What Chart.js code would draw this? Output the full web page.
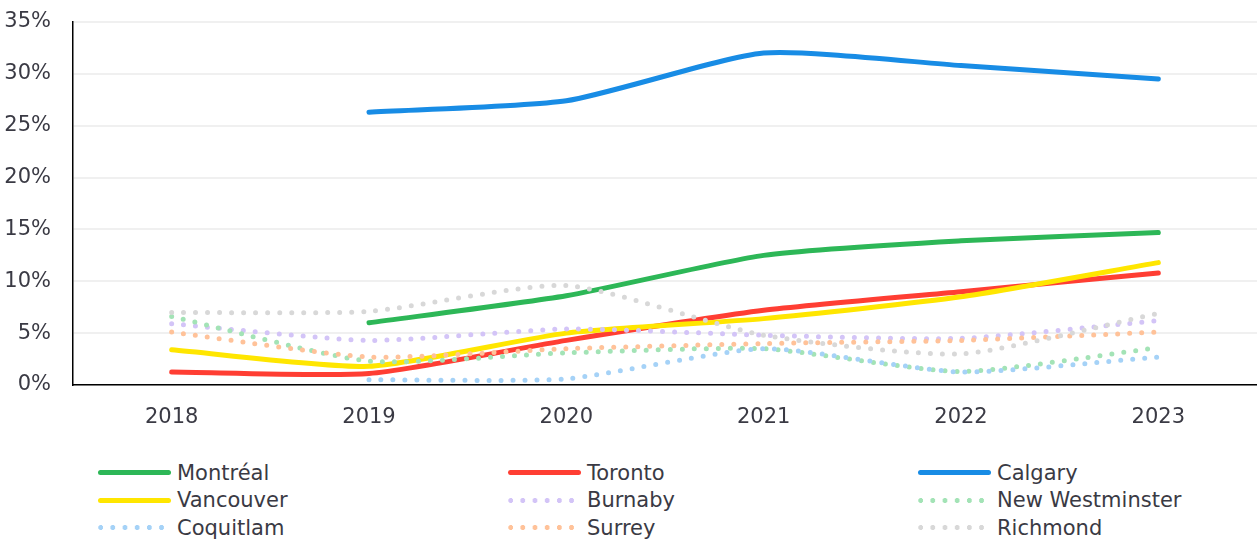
<!DOCTYPE html>
<html lang="en">
<head>
  <meta charset="UTF-8" />
  <title>Vacancy by city</title>
  <style>
    body {
      margin: 0;
      background: #fff;
      font-family: 'DejaVu Sans', sans-serif;
      color: #3a3a44;
    }
    .grafico {
      position: relative;
      width: 1257px;
      height: 440px;
    }
    .leyenda {
      position: absolute;
      left: 98px;
      top: 459px;
      display: grid;
      grid-template-columns: 410px 410px 330px;
      grid-auto-rows: 27.5px;
      font-size: 21px;
    }
    .item {
      display: flex;
      align-items: center;
      white-space: nowrap;
    }
    .muestra {
      width: 73px;
      height: 5px;
      margin-right: 6px;
      border-radius: 3px;
    }
  </style>
</head>
<body>
  <div class="grafico"><canvas id="lineas"></canvas></div>
  <div class="leyenda" id="leyenda"></div>
  <script src="https://cdn.jsdelivr.net/npm/chart.js"></script>
  <script>
    const anios = ['2018', '2019', '2020', '2021', '2022', '2023'];

    const montreal = [null, 6.0, 8.6, 12.5, 13.9, 14.7];
    const toronto = [1.25, 1.1, 4.3, 7.2, 9.0, 10.8];
    const calgary = [null, 26.3, 27.4, 32.0, 30.8, 29.5];
    const vancouver = [3.4, 1.8, 5.0, 6.4, 8.5, 11.8];
    const burnaby = [5.9, 4.3, 5.4, 4.8, 4.5, 6.2];
    const newWestminster = [6.6, 2.3, 3.1, 3.5, 1.3, 3.6];
    const coquitlam = [null, 0.5, 0.6, 3.5, 1.25, 2.7];
    const surrey = [5.1, 2.7, 3.5, 4.0, 4.3, 5.1];
    const richmond = [7.0, 7.1, 9.6, 4.8, 3.0, 6.9];

    const ticksY = [0, 5, 10, 15, 20, 25, 30, 35];

    function serie(nombre, datos, color, punteada) {
      return {
        label: nombre,
        data: datos,
        borderColor: color,
        backgroundColor: color,
        borderWidth: 5,
        borderCapStyle: 'round',
        borderDash: punteada ? [0, 12] : [],
        pointRadius: 0,
        tension: 0.2,
        fill: false,
        punteada: punteada
      };
    }

    const series = [
      serie('Montréal', montreal, '#2db757', false),
      serie('Toronto', toronto, '#ff3e33', false),
      serie('Calgary', calgary, '#188ce5', false),
      serie('Vancouver', vancouver, '#ffe600', false),
      serie('Burnaby', burnaby, '#d3c4f7', true),
      serie('New Westminster', newWestminster, '#a3e3b6', true),
      serie('Coquitlam', coquitlam, '#a5d2f7', true),
      serie('Surrey', surrey, '#ffc299', true),
      serie('Richmond', richmond, '#d8d8d8', true)
    ];
    // later series painted on top
    series.forEach((s, i) => { s.order = series.length - i; });

    const fuenteEje = { family: "'DejaVu Sans', sans-serif", size: 21 };

    new Chart(document.getElementById('lineas'), {
      type: 'line',
      data: { labels: anios, datasets: series },
      options: {
        responsive: true,
        maintainAspectRatio: false,
        animation: false,
        layout: { padding: { top: 22, right: 0, left: 0, bottom: 0 } },
        scales: {
          x: {
            offset: true,
            grid: { display: false, drawTicks: false },
            border: { color: '#000', width: 1.5 },
            ticks: { color: '#3a3a44', font: fuenteEje, padding: 20 },
            afterFit: (eje) => {
              eje.height = 55;
              eje.paddingLeft = 0;
              eje.paddingRight = 0;
            }
          },
          y: {
            min: 0,
            max: 35,
            afterBuildTicks: (eje) => { eje.ticks = ticksY.map(v => ({ value: v })); },
            grid: { color: '#f0f0f0', lineWidth: 2, drawTicks: false },
            border: { color: '#000', width: 1.5 },
            ticks: {
              color: '#3a3a44',
              font: fuenteEje,
              padding: 22,
              callback: (v) => v + '%'
            },
            afterFit: (eje) => {
              eje.width = 73;
              eje.paddingTop = 0;
              eje.paddingBottom = 0;
            }
          }
        },
        plugins: {
          legend: { display: false },
          tooltip: { enabled: false }
        }
      }
    });

    // legend in three columns
    const leyenda = document.getElementById('leyenda');
    series.forEach(s => {
      const item = document.createElement('div');
      item.className = 'item';
      const muestra = document.createElement('span');
      muestra.className = 'muestra';
      if (s.punteada) {
        muestra.style.backgroundImage = `radial-gradient(circle, ${s.borderColor} 2.3px, transparent 2.8px)`;
        muestra.style.backgroundSize = '12.2px 5px';
        muestra.style.backgroundPosition = '-3.5px 0';
      } else {
        muestra.style.background = s.borderColor;
      }
      const texto = document.createElement('span');
      texto.textContent = s.label;
      item.appendChild(muestra);
      item.appendChild(texto);
      leyenda.appendChild(item);
    });
  </script>
</body>
</html>
